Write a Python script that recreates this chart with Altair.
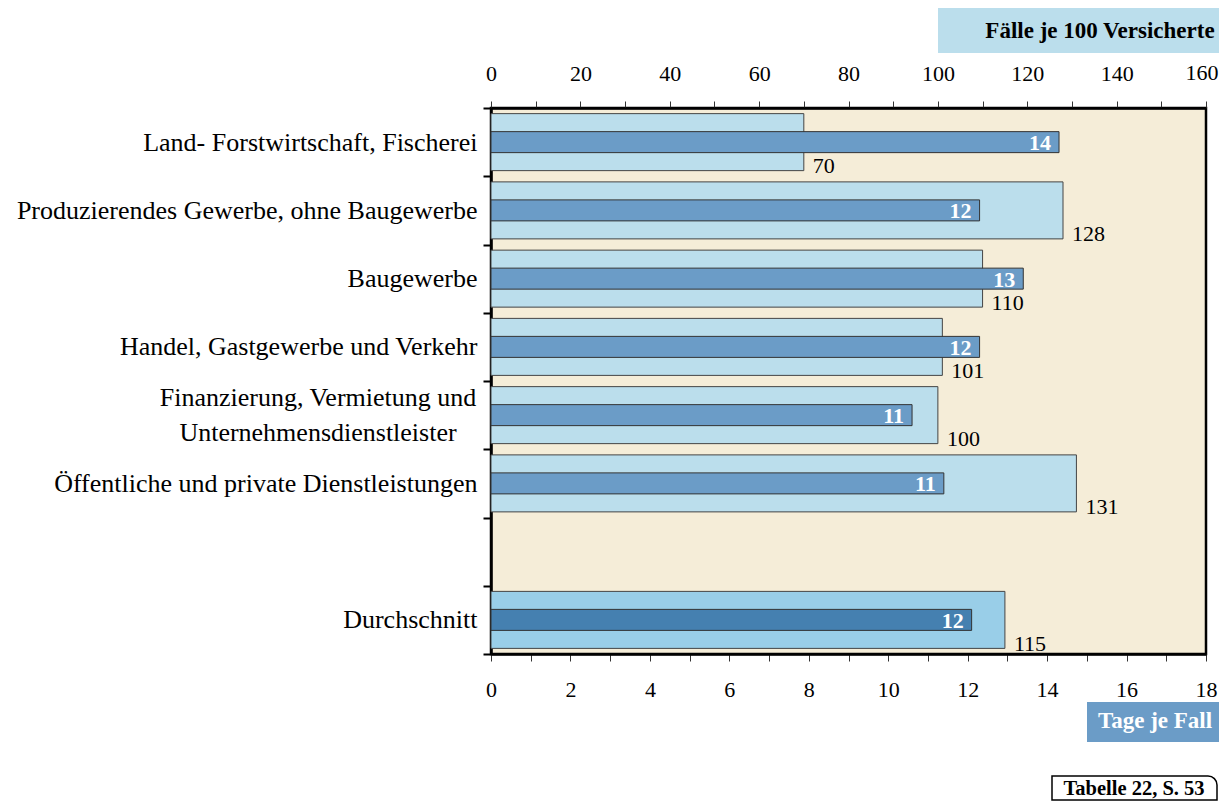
import altair as alt
import pandas as pd

# ---------------- data ----------------
categories = [
    "Land- Forstwirtschaft, Fischerei",
    "Produzierendes Gewerbe, ohne Baugewerbe",
    "Baugewerbe",
    "Handel, Gastgewerbe und Verkehr",
    "Finanzierung, Vermietung und Unternehmensdienstleister",
    "Öffentliche und private Dienstleistungen",
    "Durchschnitt",
]
gap_category = " "
faelle = [70, 128, 110, 101, 100, 131, 115]          # Fälle je 100 Versicherte (top axis)
tage = [14.3, 12.3, 13.4, 12.3, 10.6, 11.4, 12.1]    # Tage je Fall (bottom axis)
fin_lines = ["Finanzierung, Vermietung und", "Unternehmensdienstleister"]
top_ticks = list(range(0, 161, 10))
bottom_ticks = list(range(0, 19, 1))
top_title = "Fälle je 100 Versicherte"
bottom_title = "Tage je Fall"
source_note = "Tabelle 22, S. 53"

domain = categories[:6] + [gap_category] + categories[6:]
df = pd.DataFrame({"cat": categories, "faelle": faelle, "tage": tage})

FONT = "Liberation Serif"
LIGHT, LIGHT_AVG = "#BBDEEC", "#99CEE8"
DARK, DARK_AVG = "#6B9CC7", "#4580B0"
BG = "#F5EDD8"

ysc = alt.Scale(domain=domain, paddingInner=0, paddingOuter=0)
y_axis = alt.Axis(
    orient="left", title=None, tickBand="extent", tickSize=8, tickWidth=2, tickColor="black",
    domainWidth=2.5, domainColor="black", labelFont=FONT, labelFontSize=26,
    labelColor="black", labelPadding=6, labelLimit=1000,
    labelExpr=f"datum.value == '{categories[4]}' ? '' : datum.label",
)
Y_AX = alt.Y("cat:N", scale=ysc, axis=y_axis)
Y = alt.Y("cat:N", scale=ysc, axis=None)

top_scale = alt.Scale(domain=[0, 160], nice=False, zero=True)
bot_scale = alt.Scale(domain=[0, 18], nice=False, zero=True)

top_max = top_ticks[-1]
top_axis = alt.Axis(
    orient="top", title=None, values=top_ticks,
    labelExpr=f"datum.value % 20 == 0 && datum.value < {top_max} ? datum.label : ''",
    tickSize=7, tickColor="#333", tickWidth=1, domainWidth=2.5, domainColor="black",
    labelFont=FONT, labelFontSize=22, labelColor="black", labelPadding=16,
    grid=False, labelFlush=False, labelOverlap=False,
)
bot_axis = alt.Axis(
    orient="bottom", title=None, values=bottom_ticks,
    labelExpr="datum.value % 2 == 0 ? datum.label : ''",
    tickSize=7, tickColor="#333", tickWidth=1, domainWidth=2.5, domainColor="black",
    labelFont=FONT, labelFontSize=22, labelColor="black", labelPadding=18,
    grid=False, labelFlush=False, labelOverlap=False,
)

is_avg = "datum.cat == 'Durchschnitt'"

light_bars = alt.Chart(df).mark_bar(size=57, stroke="#444", strokeWidth=1).encode(
    y=Y_AX,
    x=alt.X("faelle:Q", scale=top_scale, axis=top_axis),
    color=alt.condition(is_avg, alt.value(LIGHT_AVG), alt.value(LIGHT)),
)
light_text = alt.Chart(df).mark_text(
    align="left", baseline="alphabetic", dx=9, dy=31, font=FONT, fontSize=22, color="black"
).encode(
    y=Y,
    x=alt.X("faelle:Q", scale=top_scale, axis=None),
    text=alt.Text("faelle:Q", format="d"),
)
# last top tick label, nudged left so it stays inside the page
top_last_label = alt.Chart(pd.DataFrame({"v": [top_max]})).mark_text(
    align="center", baseline="bottom", dx=-4, font=FONT, fontSize=22, color="black"
).encode(
    x=alt.X("v:Q", scale=top_scale, axis=None),
    y=alt.value(-23),
    text=alt.Text("v:Q", format="d"),
)
dark_bars = alt.Chart(df).mark_bar(size=21, stroke="#333", strokeWidth=1).encode(
    y=Y,
    x=alt.X("tage:Q", scale=bot_scale, axis=bot_axis),
    color=alt.condition(is_avg, alt.value(DARK_AVG), alt.value(DARK)),
)
dark_text = alt.Chart(df).mark_text(
    align="right", baseline="middle", dx=-8, dy=1, font=FONT, fontSize=22,
    fontWeight="bold", color="white"
).encode(
    y=Y,
    x=alt.X("tage:Q", scale=bot_scale, axis=None),
    text=alt.Text("tage:Q", format=".0f"),
)

fin_label = alt.Chart(pd.DataFrame({"cat": [categories[4]]})).mark_text(
    align="center", baseline="middle", dy=-17, font=FONT, fontSize=26, lineHeight=35,
    color="black"
).encode(
    y=Y,
    x=alt.value(-173),
    text=alt.value(fin_lines),
)

one = pd.DataFrame({"k": [0]})
top_box = alt.Chart(one).mark_rect(fill=LIGHT).encode(
    x=alt.value(447), x2=alt.value(735), y=alt.value(-100), y2=alt.value(-55)
)
top_box_text = alt.Chart(one).mark_text(
    align="center", baseline="middle", font=FONT, fontSize=23, fontWeight="bold", color="black"
).encode(x=alt.value(609), y=alt.value(-77), text=alt.value(top_title))

bot_box = alt.Chart(one).mark_rect(fill=DARK).encode(
    x=alt.value(596), x2=alt.value(735), y=alt.value(594), y2=alt.value(634)
)
bot_box_text = alt.Chart(one).mark_text(
    align="center", baseline="middle", font=FONT, fontSize=23, fontWeight="bold", color="white"
).encode(x=alt.value(664), y=alt.value(613), text=alt.value(bottom_title))

note_box = alt.Chart(one).mark_rect(
    fill="white", stroke="black", strokeWidth=1.5, cornerRadiusTopRight=9
).encode(x=alt.value(561), x2=alt.value(726), y=alt.value(668), y2=alt.value(692))
note_text = alt.Chart(one).mark_text(
    align="center", baseline="middle", font=FONT, fontSize=20.5, fontWeight="bold", color="black"
).encode(x=alt.value(643), y=alt.value(681), text=alt.value(source_note))

chart = alt.layer(
    light_bars, light_text, top_last_label, dark_bars, dark_text,
    fin_label,
    top_box, top_box_text, bot_box, bot_box_text, note_box, note_text,
).resolve_scale(x="independent").resolve_axis(y="independent").properties(
    width=715, height=546,
    padding={"left": 483, "top": 100, "right": 13, "bottom": 147},
    autosize=alt.AutoSizeParams(type="none"),
).configure_view(stroke="black", strokeWidth=2.5, fill=BG)

chart.save("out.html", embed_options={"renderer": "svg", "actions": False})
